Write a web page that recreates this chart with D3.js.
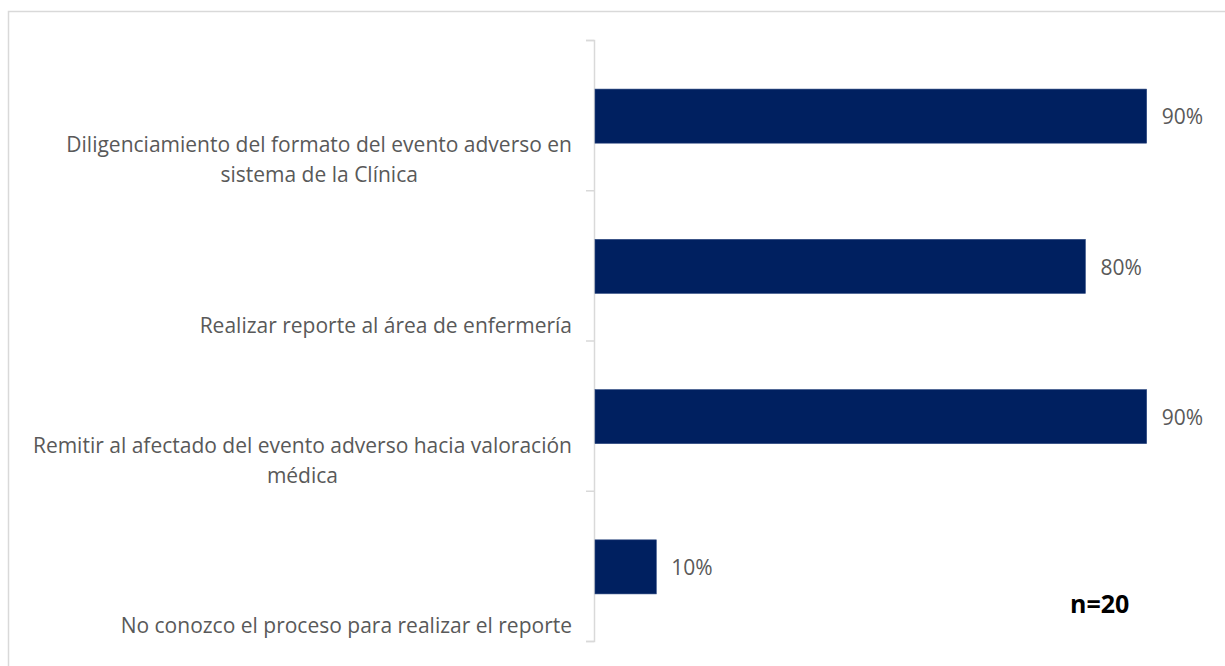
<!DOCTYPE html>
<html>
<head>
<meta charset="utf-8">
<script src="https://cdn.jsdelivr.net/npm/d3@7"></script>
<style>
  html, body { margin: 0; padding: 0; background: #fff; }
  svg { display: block; }
</style>
</head>
<body>
<svg id="chart" width="1225" height="666"></svg>
<script>
// Categories (each entry is a list of wrapped lines) and their shares
const categories = [
  "Diligenciamiento del formato del evento adverso en sistema de la Clínica",
  "Realizar reporte al área de enfermería",
  "Remitir al afectado del evento adverso hacia valoración médica",
  "No conozco el proceso para realizar el reporte"
];
const categoryLines = [
  ["Diligenciamiento del formato del evento adverso en", "sistema de la Clínica"],
  ["Realizar reporte al área de enfermería"],
  ["Remitir al afectado del evento adverso hacia valoración", "médica"],
  ["No conozco el proceso para realizar el reporte"]
];
const values = [0.90, 0.80, 0.90, 0.10];
const sampleNote = "n=20";

const svg = d3.select("#chart");
const font = "'Open Sans', Lato, sans-serif";
const textColor = "#595959";

// Outer frame
svg.append("rect")
  .attr("x", 8.5).attr("y", 11.5)
  .attr("width", 1240).attr("height", 680)
  .attr("fill", "none")
  .attr("stroke", "#d9d9d9")
  .attr("stroke-width", 1.5);

const plotTop = 40, plotBottom = 641, x0 = 595;

const y = d3.scaleBand()
  .domain(categories)
  .range([plotTop, plotBottom])
  .paddingInner(0.64)
  .paddingOuter(0.32);

const x = d3.scaleLinear().domain([0, 1]).range([x0, x0 + 613]);

// Category axis: line with ticks at band boundaries
const yEdges = d3.scaleLinear().domain([0, categories.length]).range([plotTop, plotBottom]);
const axisG = svg.append("g")
  .attr("transform", `translate(${x0 - 1},0)`)
  .call(d3.axisLeft(yEdges)
    .tickValues(d3.range(categories.length + 1))
    .tickSize(8)
    .tickSizeOuter(8)
    .tickFormat(""));
axisG.selectAll("path, line")
  .attr("stroke", "#d9d9d9")
  .attr("stroke-width", 1.5);

// Bars
svg.append("g").selectAll("rect")
  .data(values)
  .join("rect")
  .attr("x", x(0))
  .attr("y", (d, i) => y(categories[i]) + 1)
  .attr("width", d => x(d) - x(0))
  .attr("height", y.bandwidth())
  .attr("fill", "#002060")
  .attr("stroke", "#2e4a82")
  .attr("stroke-width", 0.6);

// Value labels
svg.append("g").selectAll("text")
  .data(values)
  .join("text")
  .attr("x", d => x(d) + 15)
  .attr("y", (d, i) => y(categories[i]) + y.bandwidth() / 2 + 2)
  .attr("dy", "0.35em")
  .attr("font-family", font)
  .attr("font-size", 21)
  .attr("fill", textColor)
  .text(d => d3.format(".0%")(d));

// Category labels: right-aligned block, lines centered within it,
// last line sitting below the bar
const labelRight = 572;
const lineH = 30;
categoryLines.forEach((lines, i) => {
  const g = svg.append("g");
  const cy = y(categories[i]) + y.bandwidth() / 2;
  const texts = g.selectAll("text")
    .data(lines)
    .join("text")
    .attr("font-family", font)
    .attr("font-size", 21)
    .attr("fill", textColor)
    .attr("text-anchor", "middle")
    .attr("y", (d, j) => cy + 60 - (lines.length - 1 - j) * lineH)
    .attr("dy", "0.35em")
    .text(d => d);
  const maxW = d3.max(texts.nodes(), n => n.getComputedTextLength());
  texts.attr("x", labelRight - maxW / 2);
});

// Sample size note
svg.append("text")
  .attr("x", 1070)
  .attr("y", 613)
  .attr("font-family", font)
  .attr("font-size", 25)
  .attr("font-weight", "bold")
  .attr("fill", "#000")
  .text(sampleNote);
</script>
</body>
</html>
